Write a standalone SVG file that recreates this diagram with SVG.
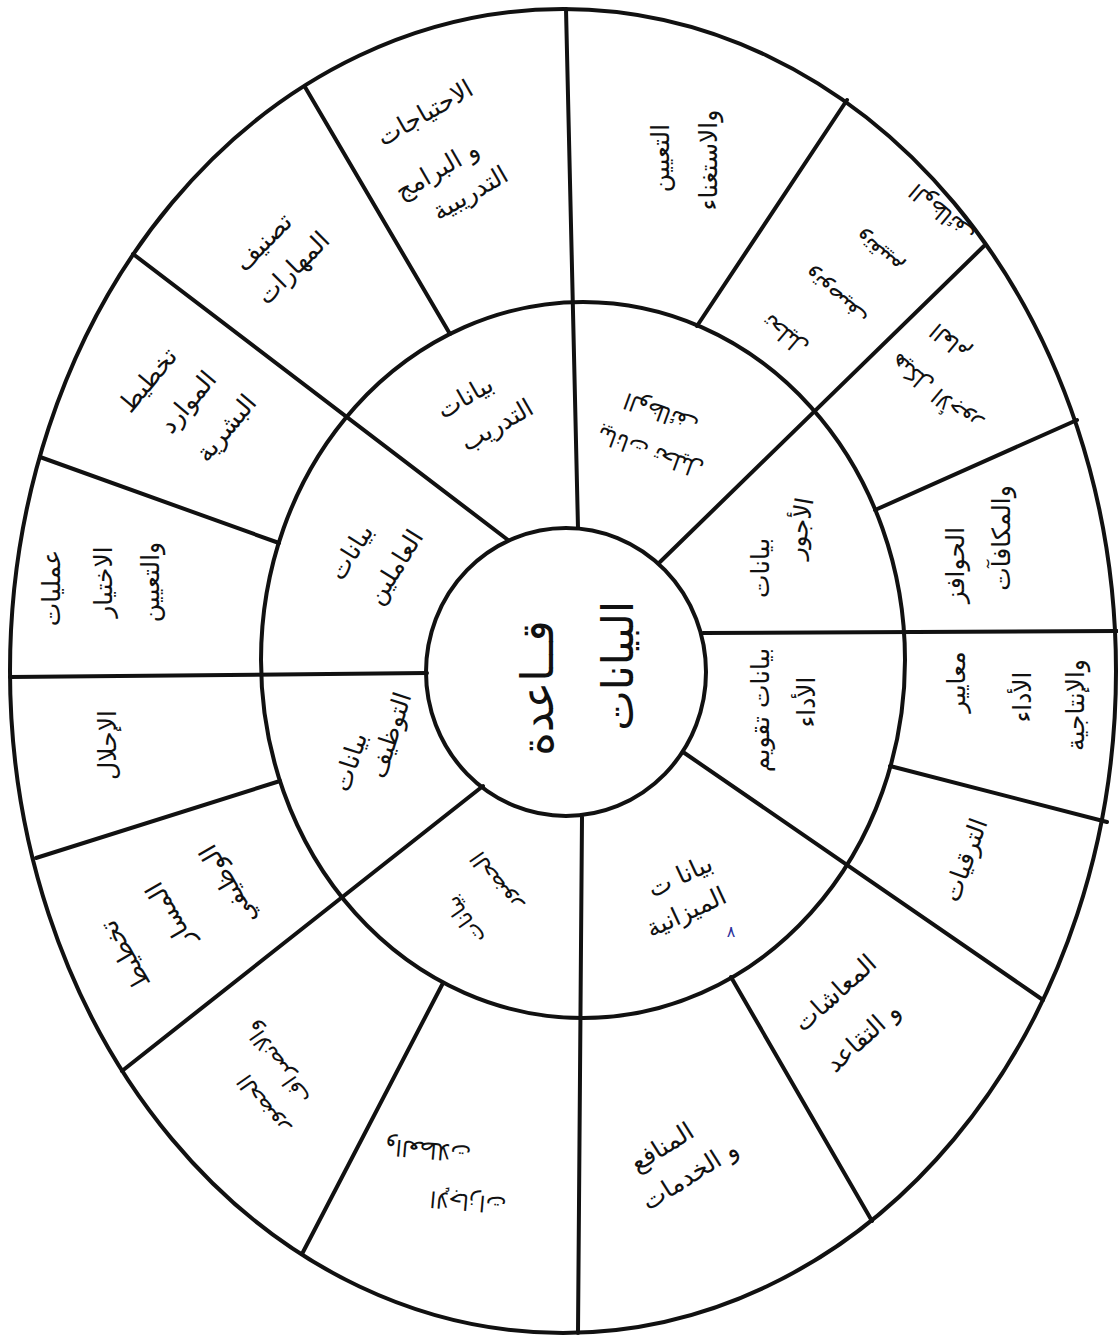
<svg xmlns="http://www.w3.org/2000/svg" width="1118" height="1337" viewBox="0 0 1118 1337">
<style>
.ln{stroke:#111;stroke-width:4;fill:none;stroke-linecap:round}
.t{font-family:"DejaVu Sans",sans-serif;font-size:25px;fill:#111;text-anchor:middle;dominant-baseline:central}
.c{font-size:45px}
.s{font-size:22px}
.b{font-size:16px;fill:#2b2f9a}
</style>
<rect width="1118" height="1337" fill="#fff"/>
<g id="rings">
<ellipse class="ln" cx="563" cy="671" rx="553" ry="662"/>
<ellipse class="ln" cx="583" cy="660" rx="322" ry="358"/>
<ellipse class="ln" cx="566" cy="672" rx="140" ry="144"/>
</g>
<g id="connectors">
<path class="ln" d="M578,528 L566,9"/>
<path class="ln" d="M508,540 L133,254"/>
<path class="ln" d="M660,562 L984,246"/>
<path class="ln" d="M703,633 L1117,631"/>
<path class="ln" d="M683,752 L1043,1000"/>
<path class="ln" d="M582,817 L578,1333"/>
<path class="ln" d="M483,786 L122,1071"/>
<path class="ln" d="M427,673 L10,677"/>
<path class="ln" d="M450,334 L305,87"/>
<path class="ln" d="M697,326 L847,100"/>
<path class="ln" d="M875,510 L1077,420"/>
<path class="ln" d="M890,766 L1107,822"/>
<path class="ln" d="M731,977 L872,1221"/>
<path class="ln" d="M443,983 L302,1254"/>
<path class="ln" d="M280,781 L36,858"/>
<path class="ln" d="M279,543 L40,457"/>
</g>
<g id="node-center">
<text class="t c" transform="translate(537,688) rotate(-90)">قــاعدة</text>
<text class="t" style="font-size:43px" transform="translate(618,666) rotate(-90)">البيانات</text>
</g>
<g id="node-m1">
<text class="t" transform="translate(465,397) rotate(-30)">بيانات</text>
<text class="t" transform="translate(497,425) rotate(-30)">التدريب</text>
</g>
<g id="node-m2">
<text class="t s" transform="translate(650,452) rotate(-160)">بيانات تحليل</text>
<text class="t s" transform="translate(661,413) rotate(-160)">الوظائف</text>
</g>
<g id="node-m3">
<text class="t" transform="translate(760,568) rotate(-90)">بيانات</text>
<text class="t" transform="translate(800,528) rotate(-80)">الأجور</text>
</g>
<g id="node-m4">
<text class="t" transform="translate(760,710) rotate(-90)">بيانات تقويم</text>
<text class="t" transform="translate(806,702) rotate(-90)">الأداء</text>
</g>
<g id="node-m5">
<text class="t" transform="translate(680,876) rotate(-25)">بيانا ت</text>
<text class="t" transform="translate(686,912) rotate(-25)">الميزانية</text>
<text class="t b" transform="translate(731,931)">٨</text>
</g>
<g id="node-m6">
<text class="t s" transform="translate(465,920) rotate(-125)">بيانات</text>
<text class="t s" transform="translate(495,882) rotate(-125)">الحضور</text>
</g>
<g id="node-m7">
<text class="t" transform="translate(350,762) rotate(-72)">بيانات</text>
<text class="t" transform="translate(390,735) rotate(-72)">التوظيف</text>
</g>
<g id="node-m8">
<text class="t" transform="translate(351,552) rotate(-58)">بيانات</text>
<text class="t" transform="translate(395,567) rotate(-58)">العاملين</text>
</g>
<g id="node-o1">
<text class="t" transform="translate(660,158) rotate(-90)">التعيين</text>
<text class="t" transform="translate(708,160) rotate(-90)">والاستغناء</text>
</g>
<g id="node-o2">
<text class="t s" transform="translate(785,335) rotate(-140)">تحليل</text>
<text class="t s" transform="translate(835,297) rotate(-140)">وتوصيف</text>
<text class="t s" transform="translate(878,253) rotate(-140)">وتقييم</text>
<text class="t s" transform="translate(942,213) rotate(-140)">الوظائف</text>
</g>
<g id="node-o3">
<text class="t s" transform="translate(935,393) rotate(-140)">هيكل الأجور</text>
<text class="t s" transform="translate(950,342) rotate(-140)">العام</text>
</g>
<g id="node-o4">
<text class="t" transform="translate(955,565) rotate(-90)">الحوافز</text>
<text class="t" transform="translate(1001,538) rotate(-90)">والمكافآت</text>
</g>
<g id="node-o5">
<text class="t" transform="translate(956,682) rotate(-90)">معايير</text>
<text class="t" transform="translate(1022,697) rotate(-90)">الأداء</text>
<text class="t" transform="translate(1075,705) rotate(-90)">والإنتاجية</text>
</g>
<g id="node-o6">
<text class="t" transform="translate(965,860) rotate(-70)">الترقيات</text>
</g>
<g id="node-o7">
<text class="t" transform="translate(835,993) rotate(-42)">المعاشات</text>
<text class="t" transform="translate(863,1037) rotate(-42)">و التقاعد</text>
</g>
<g id="node-o8">
<text class="t" transform="translate(662,1147) rotate(-32)">المنافع</text>
<text class="t" transform="translate(690,1175) rotate(-32)">و الخدمات</text>
</g>
<g id="node-o9">
<text class="t s" transform="translate(468,1202) rotate(-175)">الإجازات</text>
<text class="t s" transform="translate(428,1150) rotate(-175)">والعطلات</text>
</g>
<g id="node-o10">
<text class="t s" transform="translate(262,1105) rotate(-125)">الحضور</text>
<text class="t s" transform="translate(277,1063) rotate(-125)">والانصراف</text>
</g>
<g id="node-o11">
<text class="t" transform="translate(125,955) rotate(-120)">تخطيط</text>
<text class="t" transform="translate(170,915) rotate(-120)">المسار</text>
<text class="t" transform="translate(228,885) rotate(-120)">الوظيفي</text>
</g>
<g id="node-o12">
<text class="t" transform="translate(107,745) rotate(-90)">الإحلال</text>
</g>
<g id="node-o13">
<text class="t" transform="translate(51,588) rotate(-90)">عمليات</text>
<text class="t" transform="translate(103,582) rotate(-90)">الاختيار</text>
<text class="t" transform="translate(150,582) rotate(-90)">والتعيين</text>
</g>
<g id="node-o14">
<text class="t" transform="translate(148,380) rotate(-50)">تخطيط</text>
<text class="t" transform="translate(188,402) rotate(-50)">الموارد</text>
<text class="t" transform="translate(226,428) rotate(-50)">البشرية</text>
</g>
<g id="node-o15">
<text class="t" transform="translate(263,242) rotate(-45)">تصنيف</text>
<text class="t" transform="translate(293,268) rotate(-45)">المهارات</text>
</g>
<g id="node-o16">
<text class="t" transform="translate(425,113) rotate(-30)">الاحتياجات</text>
<text class="t" transform="translate(437,170) rotate(-30)">و البرامج</text>
<text class="t" transform="translate(470,193) rotate(-30)">التدريبية</text>
</g>
</svg>
